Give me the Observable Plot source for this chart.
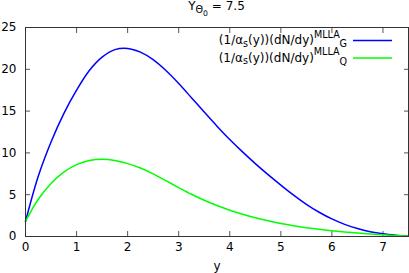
<!DOCTYPE html>
<html><head><meta charset="utf-8">
<script src="https://cdn.jsdelivr.net/npm/d3@7"></script>
<script src="https://cdn.jsdelivr.net/npm/@observablehq/plot@0.6"></script>
<style>
body{margin:0;background:#fff;}
#chart{width:409px;height:273px;}
</style></head><body><div id="chart"></div>
<script>
const rapidity = [0, 0.25, 0.5, 0.75, 1.0, 1.25, 1.5, 1.75, 2.0, 2.25, 2.5, 2.75, 3.0, 3.25, 3.5, 3.75, 4.0, 4.25, 4.5, 4.75, 5.0, 5.25, 5.5, 5.75, 6.0, 6.25, 6.5, 6.75, 7.0, 7.25, 7.5];
const gluon = [1.8, 7.2, 11.3, 14.7, 17.5, 19.85, 21.45, 22.35, 22.5, 22.05, 21.15, 19.85, 18.3, 16.6, 14.88, 13.2, 11.6, 10.12, 8.72, 7.4, 6.15, 4.95, 3.85, 2.9, 2.1, 1.45, 0.95, 0.58, 0.33, 0.16, 0.03];
const quark = [1.8, 4.45, 6.35, 7.7, 8.6, 9.1, 9.25, 9.1, 8.72, 8.2, 7.5, 6.68, 5.85, 5.05, 4.33, 3.7, 3.15, 2.67, 2.25, 1.88, 1.56, 1.29, 1.06, 0.86, 0.69, 0.54, 0.41, 0.3, 0.2, 0.11, 0.03];
const xTicks = [0, 1, 2, 3, 4, 5, 6, 7];
const yTicks = [0, 5, 10, 15, 20, 25];
const seriesKeys = ["G", "Q"];
const seriesColors = ["#0000ff", "#00ff00"];
const titleValue = "7.5";

const records = seriesKeys.flatMap((k, s) =>
  rapidity.map((y, i) => ({y, v: (s === 0 ? gluon : quark)[i], k})));

const font = "DejaVu Sans";
const svg = Plot.plot({
  width: 409, height: 273,
  marginLeft: 25, marginRight: 1, marginTop: 27, marginBottom: 37,
  style: {fontFamily: font, fontSize: "12px", background: "white", color: "#000"},
  x: {domain: [0, 7.5]},
  y: {domain: [0, 25]},
  color: {domain: seriesKeys, range: seriesColors},
  marks: [
    Plot.axisX(xTicks, {anchor: "bottom", tickSize: -5, fill: "none", label: null, stroke: "#555"}),
    Plot.axisX(xTicks, {anchor: "top", tickSize: -5, fill: "none", label: null, stroke: "#555"}),
    Plot.axisY(yTicks, {anchor: "left", tickSize: -5, fill: "none", label: null, stroke: "#555"}),
    Plot.axisY(yTicks, {anchor: "right", tickSize: -5, fill: "none", label: null, stroke: "#555"}),
    Plot.axisX(xTicks, {anchor: "bottom", tickSize: 0, tickPadding: 6, label: "y", labelAnchor: "center", labelArrow: "none", labelOffset: 33}),
    Plot.axisY(yTicks, {anchor: "left", tickSize: 0, tickPadding: 9, label: null}),
    Plot.line(records, {x: "y", y: "v", z: "k", stroke: "k", strokeWidth: 1.5, curve: "catmull-rom"}),
    Plot.frame({stroke: "#333"})
  ]
});

const g = d3.select(svg).append("g").attr("font-family", font).attr("font-size", 12);
// title
const t = g.append("text").attr("x", 216.5).attr("y", 10).attr("text-anchor", "middle");
t.append("tspan").text("Y");
t.append("tspan").attr("font-size", 9.6).attr("dy", 3).text("Θ");
t.append("tspan").attr("font-size", 7.7).attr("dy", 2.5).text("0");
t.append("tspan").attr("dy", -5.5).text(" = " + titleValue);

// legend
seriesKeys.forEach((k, i) => {
  const cy = 40.5 + 17.5 * i;
  const txt = g.append("text").attr("x", 347).attr("y", cy + 3.8).attr("text-anchor", "end");
  txt.append("tspan").text("(1/α");
  txt.append("tspan").attr("font-size", 9.6).attr("dy", 2.5).text("s");
  txt.append("tspan").attr("dy", -2.5).text("(y))(dN/dy)");
  txt.append("tspan").attr("font-size", 9.6).attr("dy", -6.7).text("MLLA");
  txt.append("tspan").attr("font-size", 9.6).attr("dy", 9.4).text(k);
  g.append("line").attr("x1", 353).attr("x2", 392).attr("y1", cy).attr("y2", cy)
    .attr("stroke", seriesColors[i]).attr("stroke-width", 1.5);
});

document.getElementById("chart").appendChild(svg);
</script>
</body></html>
